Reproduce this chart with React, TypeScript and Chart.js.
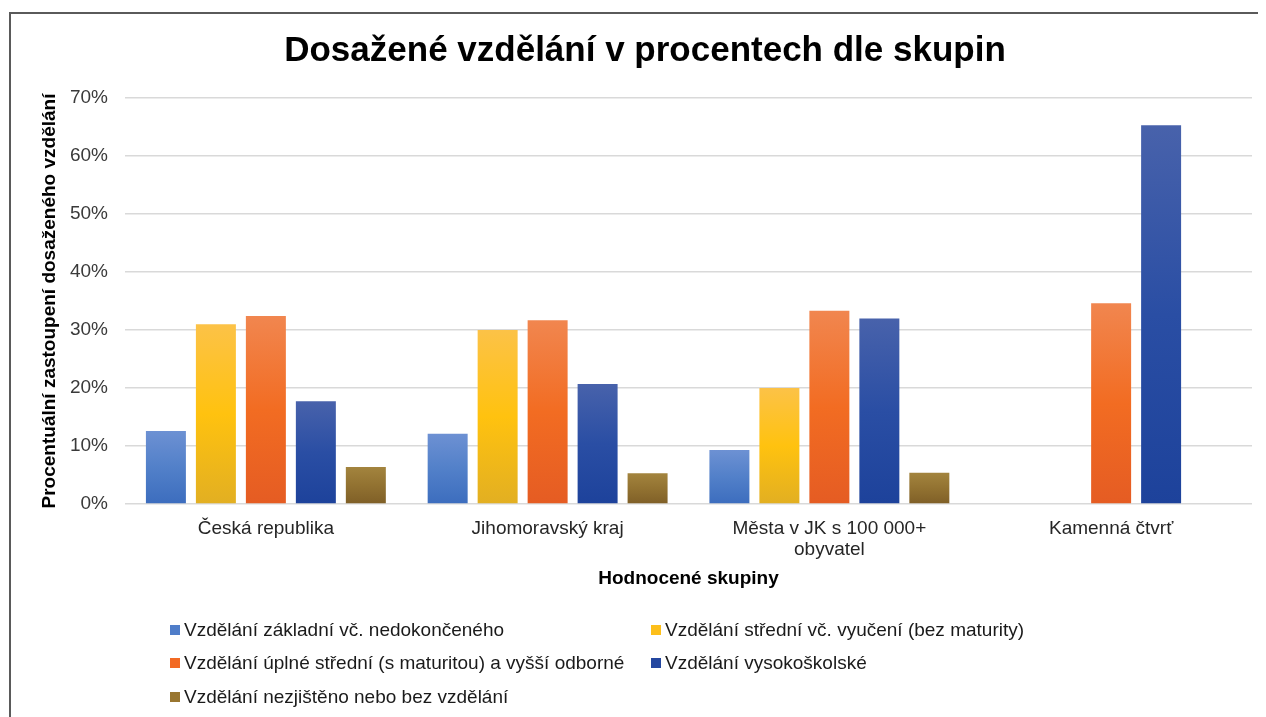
import React, { useEffect, useRef } from "react";
import { Chart, registerables } from "chart.js";

Chart.register(...registerables);

const TITLE = "Dosažené vzdělání v procentech dle skupin";
const Y_TITLE = "Procentuální zastoupení dosaženého vzdělání";
const X_TITLE = "Hodnocené skupiny";

const categories: (string | string[])[] = [
  "Česká republika",
  "Jihomoravský kraj",
  ["Města v JK s 100 000+", "obyvatel"],
  "Kamenná čtvrť",
];

const seriesNames = [
  "Vzdělání základní vč. nedokončeného",
  "Vzdělání střední vč. vyučení (bez maturity)",
  "Vzdělání úplné střední (s maturitou) a vyšší odborné",
  "Vzdělání vysokoškolské",
  "Vzdělání nezjištěno nebo bez vzdělání",
];

const zakladni = [12.6, 12.1, 9.3, null];
const stredni = [31.0, 30.0, 20.0, null];
const uplneStredni = [32.4, 31.7, 33.3, 34.6];
const vysokoskolske = [17.7, 20.7, 32.0, 65.3];
const nezjisteno = [6.4, 5.3, 5.4, null];

const seriesValues = [zakladni, stredni, uplneStredni, vysokoskolske, nezjisteno];

const yTicks = [0, 10, 20, 30, 40, 50, 60, 70];

const gradients = [
  ["#6d91d3", "#5280c9", "#3c6dbe"],
  ["#fcc247", "#ffc20f", "#e2af22"],
  ["#f1864f", "#f26c22", "#e55c23"],
  ["#4862ab", "#2a4ea4", "#1d429b"],
  ["#a3843e", "#927231", "#7f5f27"],
];
const legendColors = ["#4f7dc9", "#fdbf1a", "#f26a24", "#2447a0", "#997630"];

const FONT = "'Liberation Sans', Arial, sans-serif";

const makeBg = (stops: string[]) => (ctx: any) => {
  const chart = ctx.chart;
  const y = chart.scales && chart.scales.y;
  if (!y || ctx.type !== "data" || ctx.raw == null) return stops[1];
  const top = y.getPixelForValue(ctx.raw);
  const base = y.getPixelForValue(0);
  if (!isFinite(top) || !isFinite(base) || Math.abs(top - base) < 1) return stops[1];
  const g = chart.ctx.createLinearGradient(0, top, 0, base);
  g.addColorStop(0, stops[0]);
  g.addColorStop(0.5, stops[1]);
  g.addColorStop(1, stops[2]);
  return g;
};

export default function App() {
  const canvasRef = useRef<HTMLCanvasElement | null>(null);

  useEffect(() => {
    document.body.style.overflow = "hidden";
    const canvas = canvasRef.current;
    if (!canvas) return;
    const chart = new Chart(canvas, {
      type: "bar",
      data: {
        labels: categories as any,
        datasets: seriesNames.map((name, i) => ({
          label: name,
          data: seriesValues[i] as any,
          backgroundColor: makeBg(gradients[i]) as any,
          borderWidth: 0,
          categoryPercentage: 0.887,
          barPercentage: 0.8,
        })),
      },
      options: {
        animation: false,
        responsive: false,
        maintainAspectRatio: false,
        layout: { padding: { left: 28, right: 14, top: 0, bottom: 127 } },
        plugins: {
          legend: { display: false },
          tooltip: { enabled: false },
          title: {
            display: true,
            text: TITLE,
            color: "#000000",
            font: { family: FONT, size: 35, weight: "bold" },
            padding: { top: 16, bottom: 26 },
          },
        },
        scales: {
          x: {
            grid: { display: false, drawTicks: false },
            border: { display: false },
            afterFit: (axis: any) => {
              axis.height = 86;
            },
            ticks: {
              color: "#262626",
              font: { family: FONT, size: 19, lineHeight: 1.1 },
              padding: 14,
              maxRotation: 0,
              autoSkip: false,
            },
            title: {
              display: true,
              text: X_TITLE,
              color: "#000000",
              font: { family: FONT, size: 19, weight: "bold" },
              padding: { top: 0, bottom: 0 },
            },
          },
          y: {
            min: 0,
            max: 70,
            afterBuildTicks: (axis: any) => {
              axis.ticks = yTicks.map((v) => ({ value: v }));
            },
            afterFit: (axis: any) => {
              axis.width = 87;
            },
            grid: { color: "#d9d9d9", lineWidth: 1.5, drawTicks: false },
            border: { display: false },
            ticks: {
              color: "#3a3a3a",
              font: { family: FONT, size: 19 },
              padding: 17,
              callback: (v: any) => `${v}%`,
            },
            title: {
              display: true,
              text: Y_TITLE,
              color: "#000000",
              font: { family: FONT, size: 19, weight: "bold" },
              padding: { top: 0, bottom: 0 },
            },
          },
        },
      },
    });
    return () => chart.destroy();
  }, []);

  const legendPos = [
    { left: 170, top: 630 },
    { left: 651, top: 630 },
    { left: 170, top: 663 },
    { left: 651, top: 663 },
    { left: 170, top: 697 },
  ];

  return (
    <div style={{ position: "relative", width: 1250, height: 709 }}>
      <div
        style={{
          position: "absolute",
          left: 1,
          top: 4,
          width: 1257,
          height: 705,
          borderTop: "2px solid #5a5a5a",
          borderLeft: "2px solid #5a5a5a",
          boxSizing: "border-box",
          background: "#ffffff",
        }}
      />
      <canvas
        ref={canvasRef}
        width={1256}
        height={703}
        style={{ position: "absolute", left: 2, top: 6, width: 1256, height: 703 }}
      />
      {seriesNames.map((name, i) => (
        <div
          key={name}
          style={{
            position: "absolute",
            left: legendPos[i].left - 8,
            top: legendPos[i].top - 8 - 12,
            height: 24,
            display: "flex",
            alignItems: "center",
            fontFamily: FONT,
            fontSize: 19,
            color: "#1a1a1a",
            whiteSpace: "nowrap",
          }}
        >
          <span
            style={{
              display: "inline-block",
              width: 10,
              height: 10,
              background: legendColors[i],
              marginRight: 4,
            }}
          />
          {name}
        </div>
      ))}
    </div>
  );
}
